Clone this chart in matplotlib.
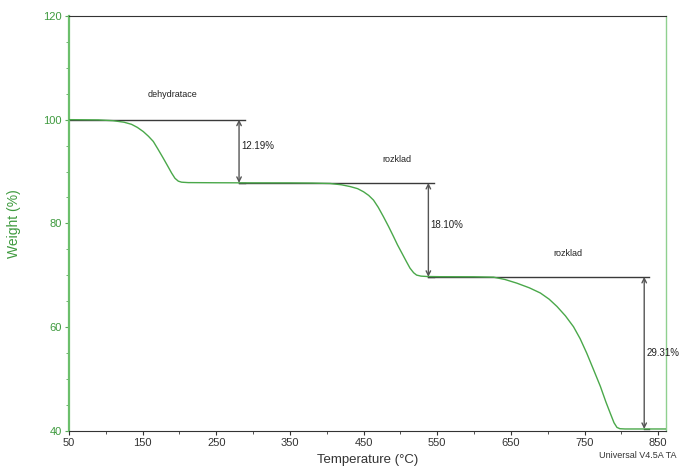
import matplotlib
matplotlib.use("Agg")
import matplotlib.pyplot as plt
from matplotlib.ticker import MultipleLocator

plt.rcParams['font.family'] = ['Liberation Sans', 'DejaVu Sans']

# TGA curve: temperature (°C) and weight (%)
temperature = [50, 90, 110, 125, 135, 143, 151, 158, 164.6, 171, 178, 184, 189.5, 194,
               198.5, 203, 212, 250, 300, 350, 380, 404.6, 420, 432, 442, 450, 457,
               463.5, 470, 477, 484, 490.6, 496, 502, 508, 513, 518, 522, 528, 536,
               554, 600, 626.5, 642, 658, 675, 690, 702, 712.6, 724, 735, 744, 753,
               762, 771.5, 779, 785, 790, 794, 798, 805, 830, 861]
weight = [100.0, 99.95, 99.8, 99.5, 99.1, 98.5, 97.7, 96.8, 95.8, 94.3, 92.6, 91.1, 89.7, 88.7,
          88.15, 87.95, 87.87, 87.84, 87.82, 87.81, 87.78, 87.7, 87.45, 87.1, 86.7, 86.1, 85.4,
          84.5, 83.1, 81.3, 79.4, 77.5, 75.9, 74.3, 72.7, 71.4, 70.5, 70.05, 69.85, 69.78,
          69.74, 69.72, 69.65, 69.2, 68.5, 67.6, 66.6, 65.4, 64.0, 62.2, 60.1, 57.8, 55.0,
          51.9, 48.6, 45.6, 43.4, 41.6, 40.7, 40.45, 40.4, 40.4, 40.4]

# Weight-loss steps: start level, loss, arrow temperature, line extents
step_levels = [100.0, 87.81, 69.71]
step_losses = [12.19, 18.10, 29.31]
arrow_temps = [281, 538, 831]
line_starts = [50, 281, 538]
line_ends = [289, 545, 838]

stage_names = ["dehydratace", "rozklad", "rozklad"]
stage_name_pos = [(190, 104.8), (496, 92.4), (728, 74.3)]

fig = plt.figure(figsize=(6.82, 4.66), dpi=100)
ax = fig.add_axes([0.101, 0.075, 0.876, 0.891])

curve_green = "#4aa84a"
ax.plot(temperature, weight, color=curve_green, lw=1.0, zorder=3)

line_col = "#3a3a3a"
for lvl, loss, xa, xs, xe in zip(step_levels, step_losses, arrow_temps, line_starts, line_ends):
    low = round(lvl - loss, 2)
    ax.plot([xs, xe], [lvl, lvl], color=line_col, lw=1.0, zorder=2)
    ax.plot([xa, xe], [low, low], color=line_col, lw=1.0, zorder=2)
    ax.annotate("", xy=(xa, low), xytext=(xa, lvl),
                arrowprops=dict(arrowstyle="<->", color="#555555", lw=1.0,
                                shrinkA=0, shrinkB=0, mutation_scale=8))
    ax.text(xa + 3, (lvl + low) / 2 + (1.0 if loss < 20 else 0), f"{loss:.2f}%",
            fontsize=7, color="#222222", ha="left", va="center")

for name, (tx, ty) in zip(stage_names, stage_name_pos):
    ax.text(tx, ty, name, fontsize=6.5, color="#222222", ha="center", va="center")

ax.set_xlim(50, 861)
ax.set_ylim(40, 120)
ax.xaxis.set_minor_locator(MultipleLocator(50))
ax.yaxis.set_major_locator(MultipleLocator(20))
ax.yaxis.set_minor_locator(MultipleLocator(5))
ax.set_xticks(range(50, 851, 100))

ax.tick_params(axis="x", which="both", direction="out", colors="#333333",
               labelsize=8, length=3, pad=2)
ax.tick_params(axis="x", which="minor", length=2)
ax.tick_params(axis="y", which="both", direction="out", colors="#5aaa5a",
               labelsize=8, length=3, pad=2)
ax.tick_params(axis="y", which="minor", length=2)
for lab in ax.get_yticklabels():
    lab.set_color("#3e9a3e")

ax.spines["left"].set_color("#6cbf6c")
ax.spines["left"].set_linewidth(1.6)
ax.spines["right"].set_color("#8fd08f")
ax.spines["right"].set_linewidth(1.0)
ax.spines["top"].set_color("#333333")
ax.spines["bottom"].set_color("#333333")

ax.set_ylabel("Weight (%)", color="#3e9a3e", fontsize=10, labelpad=16)
ax.set_xlabel("Temperature (°C)", color="#333333", fontsize=9.5, labelpad=4)
fig.text(0.935, 0.013, "Universal V4.5A TA", fontsize=6.5, color="#333333",
         ha="center", va="bottom")

fig.savefig("out.png", dpi=100)
